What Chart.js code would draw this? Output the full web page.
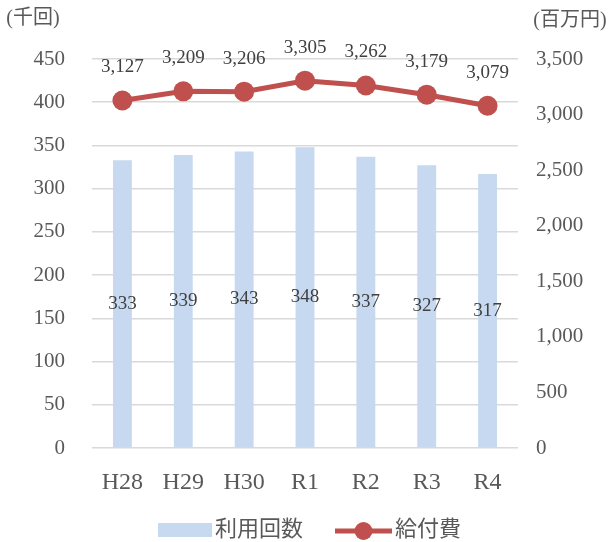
<!DOCTYPE html>
<html>
<head>
<meta charset="utf-8">
<script src="https://cdn.jsdelivr.net/npm/chart.js@4"></script>
<style>
  html, body { margin: 0; padding: 0; background: #fff; }
  #wrap { width: 612px; height: 542px; }
</style>
</head>
<body>
<div id="wrap"><canvas id="chart" width="612" height="542"></canvas></div>
<script>
// data
const categories = ['H28', 'H29', 'H30', 'R1', 'R2', 'R3', 'R4'];
const usageCounts = [333, 339, 343, 348, 337, 327, 317];      // 利用回数 (千回)
const benefitCosts = [3127, 3209, 3206, 3305, 3262, 3179, 3079]; // 給付費 (百万円)
const leftAxis = { max: 450, step: 50 };
const rightAxis = { max: 3500, step: 500 };
const seriesNames = ['利用回数', '給付費'];
const axisUnits = ['(千回)', '(百万円)'];

const FONT = '"Liberation Serif", "Noto Sans CJK JP", serif';
const BAR_COLOR = '#c6d9f0';
const LINE_COLOR = '#c0504d';
const TEXT = '#595959';

const fmt = v => Number(v).toLocaleString('en-US');

// value labels + unit titles + legend, drawn by hand
const extras = {
  id: 'extras',
  afterDatasetsDraw(chart) {
    const ctx = chart.ctx;
    ctx.save();
    ctx.fillStyle = '#404040';
    ctx.font = '19px ' + FONT;
    ctx.textAlign = 'center';
    ctx.textBaseline = 'middle';
    chart.getDatasetMeta(1).data.forEach((el, i) => {
      ctx.fillText(fmt(usageCounts[i]), el.x, (el.y + el.base) / 2);
    });
    chart.getDatasetMeta(0).data.forEach((el, i) => {
      ctx.fillText(fmt(benefitCosts[i]), el.x, el.y - 33);
    });
    ctx.restore();
  },
  afterDraw(chart) {
    const ctx = chart.ctx;
    ctx.save();
    ctx.fillStyle = TEXT;
    ctx.textBaseline = 'middle';
    ctx.font = '20px ' + FONT;
    ctx.textAlign = 'center';
    ctx.fillText(axisUnits[0], 33, 19);
    ctx.fillText(axisUnits[1], 570, 21);

    // legend
    ctx.font = '22px ' + FONT;
    ctx.textAlign = 'left';
    ctx.fillStyle = BAR_COLOR;
    ctx.fillRect(158, 523, 54, 14);
    ctx.fillStyle = TEXT;
    ctx.fillText(seriesNames[0], 215, 530);

    ctx.strokeStyle = LINE_COLOR;
    ctx.lineWidth = 5;
    ctx.beginPath();
    ctx.moveTo(335, 531);
    ctx.lineTo(392, 531);
    ctx.stroke();
    ctx.fillStyle = LINE_COLOR;
    ctx.beginPath();
    ctx.arc(363.5, 531, 9, 0, Math.PI * 2);
    ctx.fill();
    ctx.fillStyle = TEXT;
    ctx.fillText(seriesNames[1], 395, 530);
    ctx.restore();
  }
};

new Chart(document.getElementById('chart'), {
  data: {
    labels: categories,
    datasets: [
      {
        type: 'line',
        label: seriesNames[1],
        data: benefitCosts,
        yAxisID: 'y1',
        order: 0,
        borderColor: LINE_COLOR,
        backgroundColor: LINE_COLOR,
        borderWidth: 5,
        pointRadius: 10,
        pointBorderWidth: 0,
        pointBackgroundColor: LINE_COLOR,
        tension: 0
      },
      {
        type: 'bar',
        label: seriesNames[0],
        data: usageCounts,
        yAxisID: 'y',
        order: 1,
        backgroundColor: BAR_COLOR,
        categoryPercentage: 1,
        barPercentage: 0.31
      }
    ]
  },
  options: {
    responsive: false,
    animation: false,
    layout: { padding: { top: 59, left: 0, right: 0, bottom: 0 } },
    plugins: {
      legend: { display: false },
      tooltip: { enabled: false }
    },
    scales: {
      x: {
        grid: { display: false },
        border: { display: false },
        ticks: { color: TEXT, font: { family: FONT, size: 24 }, padding: 12 },
        afterFit(s) { s.height = 94; }
      },
      y: {
        position: 'left',
        min: 0,
        max: leftAxis.max,
        border: { display: false },
        grid: { color: '#d9d9d9', lineWidth: 1.5, drawTicks: false },
        ticks: { stepSize: leftAxis.step, color: TEXT, font: { family: FONT, size: 21 }, padding: 27 },
        afterFit(s) { s.width = 92; }
      },
      y1: {
        position: 'right',
        min: 0,
        max: rightAxis.max,
        border: { display: false },
        grid: { display: false, drawTicks: false },
        ticks: { stepSize: rightAxis.step, color: TEXT, font: { family: FONT, size: 21 }, padding: 18, callback: v => fmt(v) },
        afterFit(s) { s.width = 94; }
      }
    }
  },
  plugins: [extras]
});
</script>
</body>
</html>
